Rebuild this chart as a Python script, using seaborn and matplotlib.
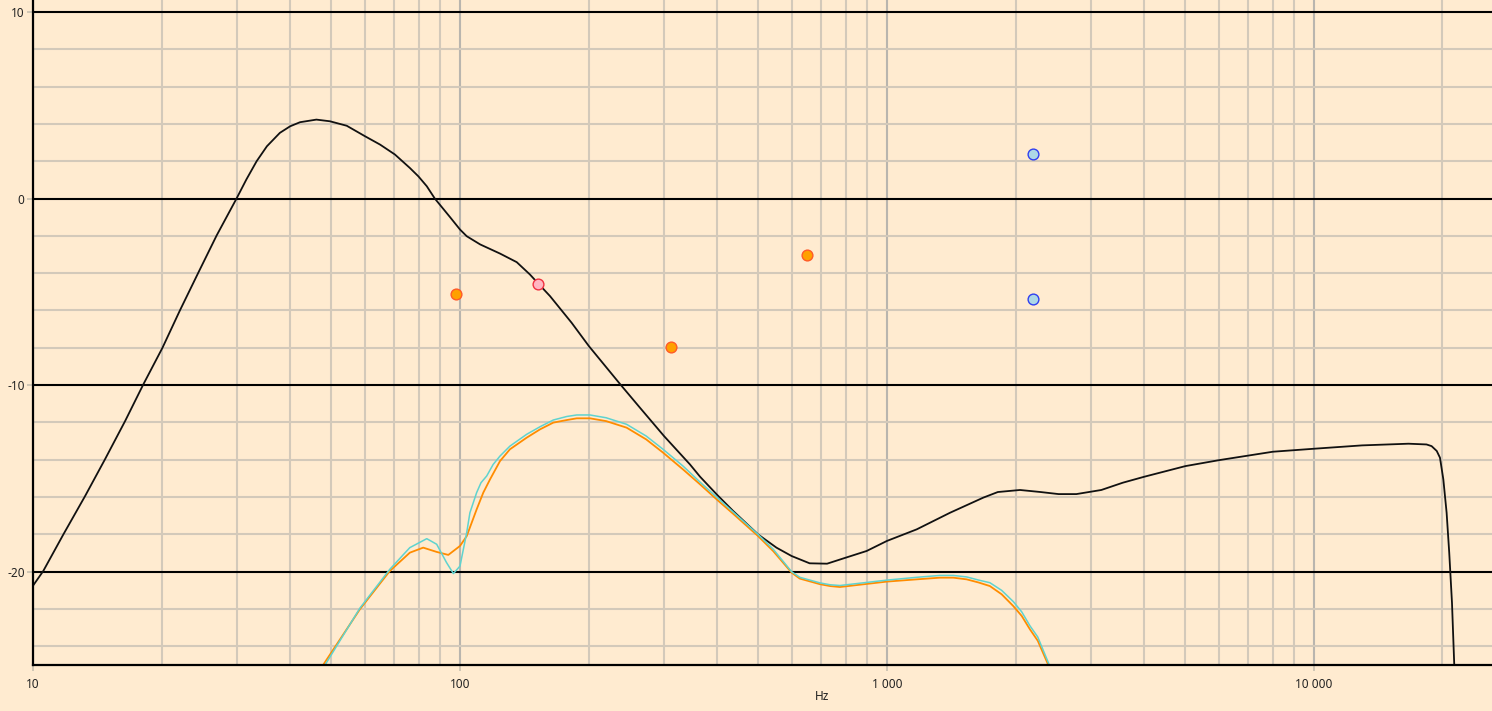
"""
Frequency response - SPL curve with two driver curves and marker points
"""

import matplotlib
matplotlib.use('Agg')
import matplotlib.pyplot as plt
import seaborn as sns
from matplotlib.ticker import LogLocator, MultipleLocator, NullFormatter

# =========================================================
# DATA (chart se padha hua)
# =========================================================
main_hz = [10.0, 10.57, 11.78, 13.24, 14.74, 16.43, 18.13, 20.1, 22.08, 24.38,
           26.92, 29.97, 31.6, 33.4, 35.3, 37.86, 40.0, 42.2, 46.1, 49.6,
           54.3, 59.9, 65.0, 70.4, 76.3, 79.9, 83.6, 87.3, 94.8, 100,
           103.7, 111.5, 124.1, 135.8, 145.8, 152, 162.5, 182.6, 200.4, 237,
           263.9, 300.5, 345.6, 365, 399, 436.5, 499, 551, 598, 659,
           724, 800, 896, 1000, 1174, 1405, 1681, 1818, 2049, 2290,
           2523, 2777, 3177, 3567, 4005, 5000, 5999, 8012, 10000, 12960,
           16650, 18350, 18860, 19390, 19730, 20090, 20450, 20740, 21050, 21310]
main_db = [-20.75, -19.96, -18.0, -15.95, -13.98, -11.93, -9.96, -8.0, -6.0, -3.98,
           -1.98, 0.0, 1.02, 2.0, 2.8, 3.52, 3.87, 4.09, 4.23, 4.14,
           3.9, 3.34, 2.89, 2.36, 1.64, 1.19, 0.66, 0.0, -1.0, -1.66,
           -2.02, -2.46, -2.95, -3.41, -4.07, -4.52, -5.23, -6.66, -7.91, -9.94,
           -11.21, -12.73, -14.25, -14.91, -15.85, -16.75, -18.0, -18.71, -19.16, -19.55,
           -19.57, -19.25, -18.89, -18.35, -17.73, -16.84, -16.03, -15.73, -15.62, -15.73,
           -15.84, -15.84, -15.62, -15.23, -14.91, -14.34, -14.02, -13.57, -13.41, -13.23,
           -13.14, -13.18, -13.27, -13.53, -13.89, -15.05, -16.84, -18.98, -21.66, -25.0]

orange_hz = [47.8, 58.3, 68.5, 76.3, 82.0, 88.2, 93.9, 100, 103.7, 109.4,
             113.4, 117.6, 124.1, 130.9, 143.2, 154, 165.4, 178, 187.7, 201.6,
             220, 245.6, 273, 299, 333, 365, 399, 436.5, 499, 541.7,
             598, 625, 697, 736, 776, 1000, 1174, 1330, 1430, 1537,
             1640, 1742, 1856, 1976, 2068, 2162, 2255, 2387]
orange_db = [-25.0, -22.01, -19.96, -18.98, -18.71, -18.94, -19.1, -18.62, -18.09, -16.66,
             -15.76, -15.05, -14.07, -13.44, -12.82, -12.37, -12.01, -11.87, -11.78, -11.78,
             -11.93, -12.28, -12.91, -13.62, -14.52, -15.32, -16.12, -16.9, -18.09, -18.9,
             -20.05, -20.37, -20.67, -20.77, -20.82, -20.53, -20.41, -20.32, -20.32, -20.41,
             -20.58, -20.77, -21.21, -21.84, -22.37, -23.09, -23.7, -25.0]

cyan_hz = [48.3, 58.3, 68.5, 76.3, 83.6, 88.2, 93.0, 96.5, 100, 103.7,
           105.5, 109.4, 112, 115.5, 119.6, 124.1, 130.9, 143.2, 154, 165.4,
           178, 187.7, 201.6, 220, 245.6, 273, 299, 333, 365, 399,
           436.5, 499, 541.7, 598, 625, 697, 736, 776, 1000, 1174,
           1330, 1430, 1537, 1640, 1742, 1856, 1976, 2068, 2162, 2255,
           2400]
cyan_db = [-25.0, -21.95, -19.87, -18.71, -18.23, -18.53, -19.51, -20.1, -19.7, -17.9,
           -16.84, -15.76, -15.23, -14.87, -14.25, -13.8, -13.27, -12.64, -12.23, -11.87,
           -11.68, -11.6, -11.6, -11.75, -12.1, -12.73, -13.44, -14.34, -15.2, -16.0,
           -16.8, -18.0, -18.8, -20.0, -20.3, -20.6, -20.7, -20.74, -20.45, -20.3,
           -20.2, -20.2, -20.28, -20.45, -20.59, -21.0, -21.6, -22.15, -22.9, -23.5,
           -25.0]

# markers
orange_pt_hz = [97.9, 312, 649]
orange_pt_db = [-5.09, -7.98, -3.0]
pink_pt_hz = [152]
pink_pt_db = [-4.6]
blue_pt_hz = [2200, 2200]
blue_pt_db = [2.36, -5.36]

x_ticks = [10, 100, 1000, 10000]
x_tick_labels = ['10', '100', '1 000', '10 000']
y_ticks = [-20, -10, 0, 10]

BG = '#FFEBD0'

# =========================================================
# PLOT
# =========================================================
sns.set_theme(style='ticks')
plt.rcParams['font.family'] = ['Noto Sans', 'DejaVu Sans']
plt.rcParams['axes.unicode_minus'] = False

fig = plt.figure(figsize=(14.92, 7.11), dpi=100, facecolor=BG)
ax = fig.add_axes([33 / 1492, 46 / 711, 1459 / 1492, 665 / 711])
ax.set_facecolor(BG)
ax.set_xscale('log')

sns.lineplot(x=main_hz, y=main_db, ax=ax, color='#111111', lw=1.3,
             estimator=None, sort=False)
sns.lineplot(x=orange_hz, y=orange_db, ax=ax, color='#FF8C00', lw=1.3,
             estimator=None, sort=False)
sns.lineplot(x=cyan_hz, y=cyan_db, ax=ax, color='#5FD3CF', lw=1.1,
             estimator=None, sort=False)

sns.scatterplot(x=orange_pt_hz, y=orange_pt_db, ax=ax, s=60, color='#FFA000',
                edgecolor='#FF5A28', linewidth=1, zorder=5)
sns.scatterplot(x=pink_pt_hz, y=pink_pt_db, ax=ax, s=60, color='#FFB6C1',
                edgecolor='#F03040', linewidth=1, zorder=5)
sns.scatterplot(x=blue_pt_hz, y=blue_pt_db, ax=ax, s=60, color='#ADD8E6',
                edgecolor='#3040F0', linewidth=1, zorder=5)

ax.set_xlim(10, 26120)
ax.set_ylim(-25, 10.64)

ax.set_xticks(x_ticks)
ax.set_xticklabels(x_tick_labels)
ax.xaxis.set_minor_locator(LogLocator(base=10, subs=range(2, 10), numticks=20))
ax.xaxis.set_minor_formatter(NullFormatter())
ax.set_yticks(y_ticks)
ax.yaxis.set_minor_locator(MultipleLocator(2))

ax.set_axisbelow(True)
ax.grid(which='major', axis='x', color='#B9B5AE', lw=1.5)
ax.grid(which='minor', axis='x', color='#D3C9BA', lw=1.5)
ax.grid(which='major', axis='y', color='black', lw=1.5)
ax.grid(which='minor', axis='y', color='#D3C9BA', lw=1.5)

ax.tick_params(which='minor', length=0)
ax.tick_params(which='major', length=4, width=1.2, color='#C8C0B0',
               labelsize=8.5, labelcolor='#222222')
ax.tick_params(axis='x', pad=5)
ax.tick_params(axis='y', pad=2)

for side in ['top', 'right']:
    ax.spines[side].set_visible(False)
for side in ['left', 'bottom']:
    ax.spines[side].set_color('black')
    ax.spines[side].set_linewidth(1.6)

ax.set_xlabel('Hz', fontsize=8.5, color='#222222')
ax.set_ylabel('')
ax.xaxis.set_label_coords((822 - 33) / 1459, -0.038)

plt.savefig('out.png', dpi=100, facecolor=BG)
plt.close()
